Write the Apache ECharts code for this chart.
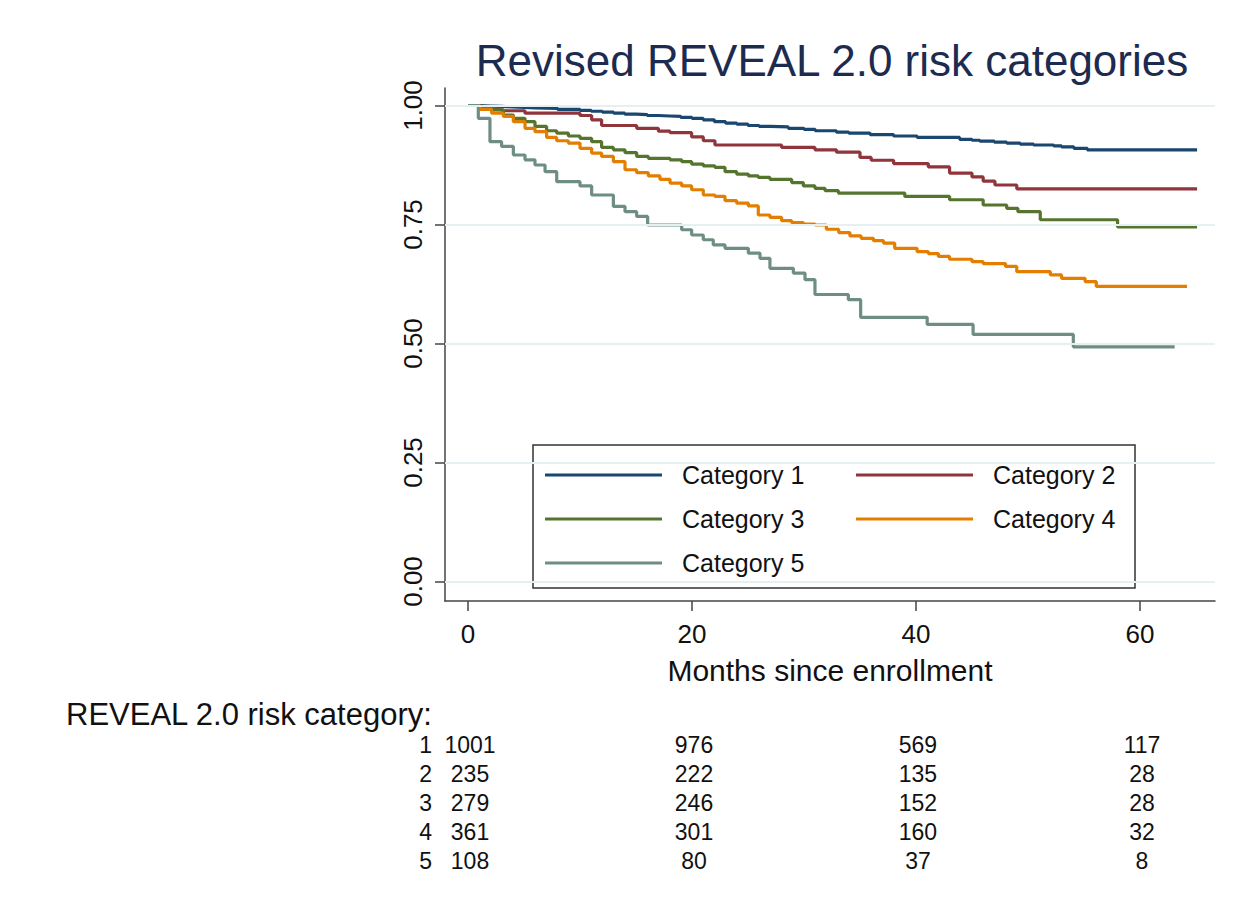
<!DOCTYPE html>
<html><head><meta charset="utf-8">
<script src="https://cdn.jsdelivr.net/npm/echarts@6/dist/echarts.min.js"></script>
<style>html,body{margin:0;padding:0;background:#fff}#c{width:1247px;height:909px}</style>
</head><body><div id="c"></div>
<script>
// ---- data ----
const seriesNames = ['Category 1', 'Category 2', 'Category 3', 'Category 4', 'Category 5'];

const times1 = [0, 1, 2, 3, 4, 5, 6, 8, 10, 11, 12, 13, 14, 15, 16, 17, 18, 19, 20, 21, 22, 23, 24, 25, 26, 27, 28.6, 30, 31, 32.9, 34, 35.9, 38, 40.1, 43.9, 45, 45.7, 47, 48.1, 49.3, 50.5, 52.3, 53, 54.1, 55.3, 65.1];
const surv1  = [1.0, .999, .998, .997, .996, .995, .994, .992, .990, .988, .986, .984, .982, .981, .979, .978, .977, .975, .973, .970, .966, .963, .961, .958, .956, .955, .952, .950, .947, .944, .942, .939, .936, .933, .929, .927, .925, .923, .921, .919, .917, .915, .913, .910, .907, .907];

const times2 = [0, 1.07, 3.0, 5.09, 10.0, 11.04, 11.93, 15.06, 17.0, 18.04, 19.97, 21.01, 22.05, 28.0, 30.98, 32.9, 35.0, 36.0, 38.0, 41.1, 43.0, 45.0, 46.0, 47.05, 49.0, 65.1];
const surv2  = [1.0, .993, .989, .984, .979, .970, .958, .952, .946, .943, .934, .926, .917, .912, .907, .902, .891, .885, .878, .871, .858, .850, .841, .833, .825, .825];

const times3 = [0, 1.0, 2.11, 3.16, 4.05, 5.09, 5.98, 7.02, 7.92, 8.96, 10.0, 11.04, 11.93, 12.98, 14.02, 15.06, 16.1, 18.04, 19.08, 19.97, 21.01, 22.05, 22.95, 23.99, 25.03, 25.92, 26.96, 28.9, 29.94, 30.98, 31.88, 33.07, 39.0, 43.0, 46.0, 48.1, 49.1, 51.1, 58.0, 65.1];
const surv3  = [1.0, .996, .991, .980, .973, .966, .956, .947, .942, .936, .931, .924, .912, .907, .901, .893, .889, .886, .882, .877, .873, .870, .861, .856, .852, .849, .845, .838, .831, .826, .821, .816, .809, .802, .791, .784, .777, .760, .745, .745];

const times4 = [0, 1.07, 2.11, 3.16, 4.05, 5.09, 5.98, 7.02, 7.92, 8.96, 10.0, 11.04, 11.93, 12.98, 14.02, 15.06, 16.1, 17.14, 18.04, 19.08, 19.97, 21.01, 22.05, 22.95, 23.99, 25.03, 25.92, 26.96, 28.0, 28.9, 29.94, 30.98, 32.0, 33.1, 34.1, 35.1, 36.2, 37.1, 38.1, 40.1, 41.1, 42.0, 43.0, 45.0, 46.0, 48.0, 49.0, 52.0, 53.0, 55.1, 56.1, 64.2];
const surv4  = [1.0, .992, .984, .977, .966, .952, .945, .933, .926, .921, .910, .900, .893, .882, .865, .859, .852, .845, .837, .831, .823, .812, .809, .800, .795, .789, .770, .765, .758, .754, .751, .749, .740, .733, .726, .721, .716, .711, .700, .693, .689, .683, .677, .672, .668, .662, .651, .644, .637, .630, .620, .620];

const times5 = [0, 0.92, 1.96, 3.0, 4.05, 5.09, 5.98, 6.88, 7.92, 10.0, 11.04, 12.98, 14.02, 15.06, 16.04, 19.08, 19.97, 21.01, 21.9, 22.95, 25.03, 26.07, 26.96, 29.05, 30.09, 30.98, 33.96, 35.06, 41.0, 45.1, 54.05, 63.1];
const surv5  = [1.0, .973, .924, .914, .896, .886, .875, .861, .840, .831, .812, .788, .777, .767, .749, .739, .728, .718, .707, .700, .690, .679, .658, .648, .634, .603, .592, .555, .540, .519, .493, .493];

const xTicks = [0, 20, 40, 60];
const yTicks = [0, 0.25, 0.5, 0.75, 1];

const riskTitle = 'REVEAL 2.0 risk category:';
const riskTimes = [0, 20, 40, 60];
const riskRows = ['1', '2', '3', '4', '5'];
const atRisk1 = [1001, 976, 569, 117];
const atRisk2 = [235, 222, 135, 28];
const atRisk3 = [279, 246, 152, 28];
const atRisk4 = [361, 301, 160, 32];
const atRisk5 = [108, 80, 37, 8];

// ---- styling ----
const colors = ['#1a476f', '#90353b', '#55752f', '#e37e00', '#6e8e84'];
const FONT = '"Liberation Sans", Arial, Helvetica, sans-serif';
const TXT = '#111111';
const AXC = '#444444';

const allTimes = [times1, times2, times3, times4, times5];
const allSurv = [surv1, surv2, surv3, surv4, surv5];
const allRisk = [atRisk1, atRisk2, atRisk3, atRisk4, atRisk5];

const chart = echarts.init(document.getElementById('c'), null, { renderer: 'svg' });

const series = [{
  name: '_grid', type: 'line', data: [], silent: true, z: 1,
  markLine: {
    silent: true, symbol: ['none', 'none'], animation: false,
    label: { show: false },
    lineStyle: { color: '#e6eff1', width: 2, type: 'solid' },
    data: yTicks.map(v => ({ yAxis: v }))
  }
}];
seriesNames.forEach((n, i) => {
  series.push({
    name: n, type: 'line', step: 'end', showSymbol: false, symbol: 'none',
    data: allTimes[i].map((t, j) => [t, allSurv[i][j]]),
    lineStyle: { color: colors[i], width: 3.2 },
    itemStyle: { color: colors[i] },
    z: 3, animation: false
  });
});

const legendWidths = [160, 130, 160, 130, 160];

chart.setOption({
  backgroundColor: '#ffffff',
  animation: false,
  textStyle: { fontFamily: FONT },
  grid: { left: 445, right: 32, top: 88, bottom: 308 },
  xAxis: {
    type: 'value', min: -2.054, max: 66.7,
    axisLine: { show: true, onZero: false, lineStyle: { color: AXC, width: 1.5 } },
    axisTick: { show: true, customValues: xTicks, length: 10, lineStyle: { color: AXC, width: 1.5 } },
    axisLabel: { customValues: xTicks, fontSize: 26, color: TXT, margin: 20, fontFamily: FONT },
    splitLine: { show: false },
    name: 'Months since enrollment', nameLocation: 'middle', nameGap: 54,
    nameTextStyle: { fontSize: 30, color: TXT, fontFamily: FONT }
  },
  yAxis: {
    type: 'value', min: -0.041, max: 1.0368,
    axisLine: { show: true, onZero: false, lineStyle: { color: AXC, width: 1.5 } },
    axisTick: { show: true, customValues: yTicks, length: 10, lineStyle: { color: AXC, width: 1.5 } },
    axisLabel: { customValues: yTicks, rotate: 90, fontSize: 26, color: TXT, margin: 19, fontFamily: FONT,
      formatter: v => Number(v).toFixed(2) },
    splitLine: { show: false }
  },
  legend: {
    left: 533, top: 445, orient: 'horizontal', width: 580,
    padding: [15, 12, 10, 12], itemGap: 14, itemWidth: 117, itemHeight: 3, icon: 'rect',
    borderColor: '#333333', borderWidth: 1.5, backgroundColor: '#ffffff',
    textStyle: { fontSize: 25, color: TXT, lineHeight: 30, fontFamily: FONT, padding: [0, 0, 0, 15] },
    data: seriesNames.map((n, i) => ({ name: n, textStyle: { width: legendWidths[i] } }))
  },
  series: series
});

// title + risk table as graphics positioned with the axis scale
const px = t => chart.convertToPixel({ xAxisIndex: 0 }, t);
const graphics = [{
  type: 'text', x: 832, y: 60,
  style: { text: 'Revised REVEAL 2.0 risk categories', fontSize: 44, fontFamily: FONT, fill: '#1c2b4f',
    align: 'center', verticalAlign: 'middle' }
}, {
  type: 'text', x: 66, y: 714,
  style: { text: riskTitle, fontSize: 31, fontFamily: FONT, fill: TXT, align: 'left', verticalAlign: 'middle' }
}];
riskRows.forEach((r, i) => {
  const y = 745 + i * 29;
  graphics.push({ type: 'text', x: 432, y: y,
    style: { text: r, fontSize: 23, fontFamily: FONT, fill: TXT, align: 'right', verticalAlign: 'middle' } });
  riskTimes.forEach((t, k) => {
    graphics.push({ type: 'text', x: px(t) + 2, y: y,
      style: { text: String(allRisk[i][k]), fontSize: 23, fontFamily: FONT, fill: TXT, align: 'center', verticalAlign: 'middle' } });
  });
});
chart.setOption({ graphic: graphics });
</script>
</body></html>
